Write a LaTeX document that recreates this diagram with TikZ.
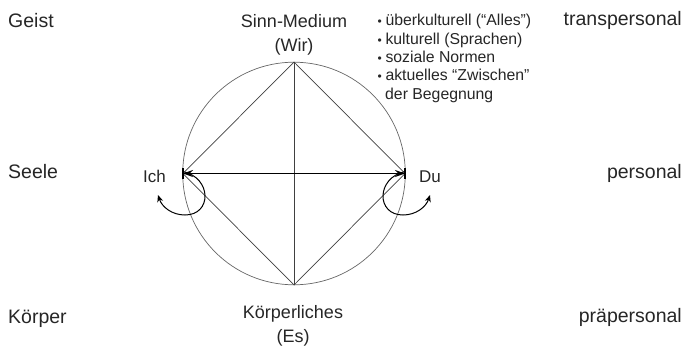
\documentclass[tikz,border=0pt]{standalone}
\usepackage{fontspec}
\setmainfont{Liberation Sans}
\usetikzlibrary{arrows.meta}
\newcommand{\dotmark}{{\fontsize{12}{12}\selectfont •}\hspace{3.6pt}}
\begin{document}
\begin{tikzpicture}[x=1pt,y=-1pt,
  lbl/.style={inner sep=0pt, text=black!85, font=\fontsize{19.5}{23}\selectfont},
  mid/.style={inner sep=0pt, text=black!85, font=\fontsize{18}{24}\selectfont},
  pole/.style={inner sep=0pt, text=black!85, font=\fontsize{17}{20}\selectfont},
  item/.style={inner sep=0pt, text=black!85, font=\fontsize{15.8}{18}\selectfont},
  fine/.style={line width=0.7pt, draw=black!75},
  ring/.style={line width=0.7pt, draw=black!60},
  axis/.style={line width=1.7pt, draw=black,
    {Stealth[length=10pt,width=7pt]}-{Stealth[length=10pt,width=7pt]}},
  tick/.style={line width=2.2pt, draw=black},
  turn/.style={line width=1pt, draw=black, -{Stealth[length=7pt,width=6pt]}}
]
\useasboundingbox (0,0) rectangle (695,345);

% levels, left and right
\node[lbl, anchor=base west] (geist) at (8,28) {Geist};
\node[lbl, anchor=base west] (seele) at (8,178) {Seele};
\node[lbl, anchor=base west] (koerper) at (8,323) {Körper};
\node[lbl, anchor=base east] (trans) at (682,26) {transpersonal};
\node[lbl, anchor=base east] (pers) at (682,178) {personal};
\node[lbl, anchor=base east] (prae) at (682,322) {präpersonal};

% circle and its four poles
\coordinate (c) at (294,173.5);
\coordinate (wir) at (294,62);
\coordinate (es) at (294,285);
\coordinate (ichp) at (183,173.5);
\coordinate (dup) at (405,173.5);
\draw[ring] (c) circle[radius=111.3];

\draw[fine] (wir) -- (dup) -- (es) -- (ichp) -- cycle;
\draw[fine] (wir) -- (es);

\draw[axis] (ichp) -- (dup);
\draw[tick] ([yshift=-5.5pt]ichp) -- ([yshift=5.5pt]ichp);
\draw[tick] ([yshift=-5.5pt]dup) -- ([yshift=5.5pt]dup);

% turning arrows at Ich and Du
\coordinate (ichend) at (158,195);
\coordinate (duend) at (430,195);
\draw[turn] ([yshift=2pt]ichp) .. controls (212,178) and (212,215) .. (185,215)
  .. controls (172,215) and (162,207) .. (ichend);
\draw[turn] ([yshift=2pt]dup) .. controls (376,178) and (376,215) .. (403,215)
  .. controls (416,215) and (426,207) .. (duend);

% pole labels
\node[mid, anchor=base] (sinn) at (294,28) {Sinn-Medium};
\node[mid, anchor=base] (wirl) at (294,52) {(Wir)};
\node[mid, anchor=base] (koerpl) at (293,318) {Körperliches};
\node[mid, anchor=base] (esl) at (293,342) {(Es)};
\node[pole, anchor=base west] (ich) at (143,182) {Ich};
\node[pole, anchor=base west] (du) at (419,182) {Du};

% list beside the top pole
\node[item, anchor=base west] (i1) at (377.5,26) {\dotmark überkulturell (“Alles”)};
\node[item, anchor=base west] (i2) at (377.5,44.3) {\dotmark kulturell (Sprachen)};
\node[item, anchor=base west] (i3) at (377.5,62.6) {\dotmark soziale Normen};
\node[item, anchor=base west] (i4) at (377.5,80.9) {\dotmark aktuelles “Zwischen”};
\node[item, anchor=base west] (i5) at (385,99.2) {der Begegnung};
\end{tikzpicture}
\end{document}
